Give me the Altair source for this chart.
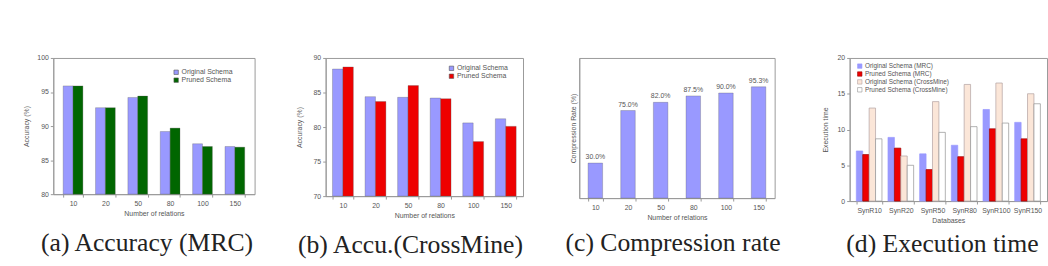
import altair as alt
import pandas as pd

# ---------------- data ----------------
relations = ["10", "20", "50", "80", "100", "150"]
series_ab = ["Original Schema", "Pruned Schema"]

acc_mrc_original = [95.9, 92.7, 94.2, 89.2, 87.4, 87.0]
acc_mrc_pruned = [95.9, 92.7, 94.4, 89.7, 87.0, 86.9]

acc_cm_original = [88.4, 84.4, 84.3, 84.2, 80.6, 81.2]
acc_cm_pruned = [88.7, 83.7, 86.0, 84.1, 77.9, 80.1]

compression_rate = [30.0, 75.0, 82.0, 87.5, 90.0, 95.3]

databases = ["SynR10", "SynR20", "SynR50", "SynR80", "SynR100", "SynR150"]
series_d = ["Original Schema (MRC)", "Pruned Schema (MRC)",
            "Original Schema (CrossMine)", "Pruned Schema (CrossMine)"]
exec_orig_mrc = [7.0, 8.9, 6.6, 7.8, 12.8, 11.0]
exec_pruned_mrc = [6.5, 7.4, 4.4, 6.2, 10.1, 8.7]
exec_orig_cm = [13.0, 6.3, 13.9, 16.3, 16.5, 15.0]
exec_pruned_cm = [8.7, 5.0, 9.6, 10.4, 10.9, 13.6]

captions = ["(a) Accuracy (MRC)", "(b) Accu.(CrossMine)",
            "(c) Compression rate", "(d) Execution time"]

# ---------------- styling ----------------
SANS = "Liberation Sans"
SERIF = "Liberation Serif"
TXT = "#555555"
AX = "#999999"
BLUE = "#9999ff"
GREEN = "#006600"
RED = "#ee0000"


def caption(text, dx, offset):
    return alt.TitleParams(text=text, orient="bottom", font=SERIF, fontSize=26,
                           fontWeight="normal", color="#222222", anchor="middle",
                           frame="group", dx=dx, offset=offset)


def xaxis(title):
    return alt.Axis(title=title, labelAngle=0, tickBand="extent", tickSize=3,
                    labelPadding=3, titlePadding=3, grid=False)


def yaxis(title, values, ext, tpad):
    return alt.Axis(title=title, values=values, tickSize=3, labelPadding=2,
                    minExtent=ext, maxExtent=ext, titlePadding=tpad, grid=False)


def legend(x, y, fs=7):
    return alt.Legend(title=None, orient="none", legendX=x, legendY=y,
                      symbolType="square", symbolSize=20, labelFontSize=fs,
                      labelColor=TXT, labelFont=SANS, rowPadding=0,
                      symbolStrokeWidth=0.6, labelOffset=2)


# ---------------- panel a ----------------
df_a = pd.DataFrame({
    "rel": relations * 2,
    "series": [series_ab[0]] * 6 + [series_ab[1]] * 6,
    "acc": acc_mrc_original + acc_mrc_pruned,
})
panel_a = alt.Chart(df_a).mark_bar(stroke="#555555", strokeWidth=0.3).encode(
    x=alt.X("rel:N", sort=relations, axis=xaxis("Number of relations"),
            scale=alt.Scale(paddingInner=0.39, paddingOuter=0.305)),
    xOffset=alt.XOffset("series:N", sort=series_ab),
    y=alt.Y("acc:Q", scale=alt.Scale(domain=[80, 100], zero=False),
            axis=yaxis("Accuracy (%)", [80, 85, 90, 95, 100], 15, 9)),
    y2=alt.datum(80),
    color=alt.Color("series:N", sort=series_ab,
                    scale=alt.Scale(domain=series_ab, range=[BLUE, GREEN]),
                    legend=legend(121, 11)),
).properties(width=204, height=138, title=caption(captions[0], -7, 14))

# ---------------- panel b ----------------
df_b = pd.DataFrame({
    "rel": relations * 2,
    "series": [series_ab[0]] * 6 + [series_ab[1]] * 6,
    "acc": acc_cm_original + acc_cm_pruned,
})
panel_b = alt.Chart(df_b).mark_bar(stroke="#555555", strokeWidth=0.3).encode(
    x=alt.X("rel:N", sort=relations, axis=xaxis("Number of relations"),
            scale=alt.Scale(paddingInner=0.36, paddingOuter=0.21)),
    xOffset=alt.XOffset("series:N", sort=series_ab),
    y=alt.Y("acc:Q", scale=alt.Scale(domain=[70, 90], zero=False),
            axis=yaxis("Accuracy (%)", [70, 75, 80, 85, 90], 12, 11)),
    y2=alt.datum(70),
    color=alt.Color("series:N", sort=series_ab,
                    scale=alt.Scale(domain=series_ab, range=[BLUE, RED]),
                    legend=legend(124, 7)),
).properties(width=200, height=140, title=caption(captions[1], -14, 14))

# ---------------- panel c ----------------
df_c = pd.DataFrame({"rel": relations, "rate": compression_rate})
base_c = alt.Chart(df_c).encode(
    x=alt.X("rel:N", sort=relations, axis=xaxis("Number of relations"),
            scale=alt.Scale(paddingInner=0.555, paddingOuter=0.27)),
    y=alt.Y("rate:Q", scale=alt.Scale(domain=[0, 120]),
            axis=alt.Axis(title="Compression Rate (%)", labels=False, ticks=False,
                          minExtent=0, maxExtent=0, titlePadding=3, grid=False)),
)
bars_c = base_c.mark_bar(color=BLUE, stroke="#555555", strokeWidth=0.3)
text_c = base_c.transform_calculate(
    lab="format(datum.rate, '.1f') + '%'"
).mark_text(dy=-6, fontSize=7, font=SANS, color=TXT).encode(text="lab:N")
panel_c = alt.layer(bars_c, text_c).properties(
    width=198, height=142, title=caption(captions[2], -4, 10))

# ---------------- panel d ----------------
df_d = pd.DataFrame({
    "db": databases * 4,
    "series": sum([[s] * 6 for s in series_d], []),
    "t": exec_orig_mrc + exec_pruned_mrc + exec_orig_cm + exec_pruned_cm,
})
panel_d = alt.Chart(df_d).mark_bar(strokeWidth=0.7).encode(
    x=alt.X("db:N", sort=databases, axis=xaxis("Databases"),
            scale=alt.Scale(paddingInner=0.19, paddingOuter=0.21)),
    xOffset=alt.XOffset("series:N", sort=series_d),
    y=alt.Y("t:Q", scale=alt.Scale(domain=[0, 20]),
            axis=yaxis("Execution time", [0, 5, 10, 15, 20], 8, 13)),
    fill=alt.Fill("series:N", sort=series_d,
                  scale=alt.Scale(domain=series_d,
                                  range=[BLUE, RED, "#fbe6d8", "#ffffff"]),
                  legend=legend(7, 5, 6.5)),
    stroke=alt.Stroke("series:N", sort=series_d,
                      scale=alt.Scale(domain=series_d,
                                      range=[BLUE, "#990000", "#b0a0a0", "#909090"]),
                      legend=legend(7, 5, 6.5)),
).properties(width=200, height=145, title=caption(captions[3], -6, 8))

chart = alt.hconcat(panel_a, panel_b, panel_c, panel_d, spacing=40).resolve_scale(
    x="independent", y="independent", xOffset="independent",
    color="independent", fill="independent", stroke="independent",
).resolve_legend(
    color="independent", fill="independent", stroke="independent",
).properties(
    padding={"left": 22, "top": 52, "right": 0, "bottom": 0},
    background="white",
).configure_view(
    stroke=AX, strokeWidth=1
).configure_axis(
    labelFont=SANS, titleFont=SANS, labelFontSize=7, titleFontSize=7,
    labelColor=TXT, titleColor=TXT, titleFontWeight="normal",
    domainColor=AX, tickColor=AX,
)

chart.save("out.html", embed_options={"renderer": "svg", "actions": False})
